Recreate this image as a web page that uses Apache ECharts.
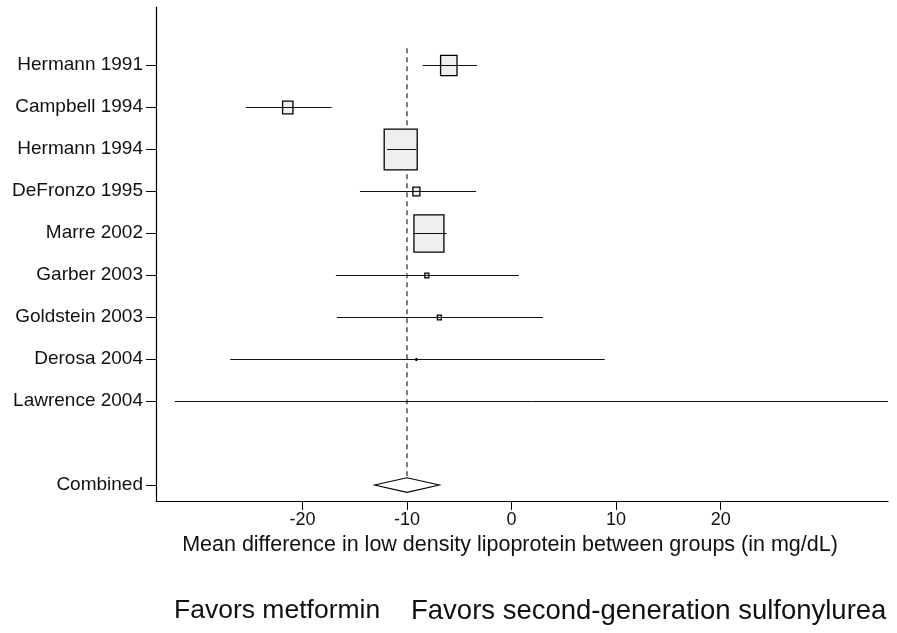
<!DOCTYPE html>
<html>
<head>
<meta charset="utf-8">
<script src="https://cdn.jsdelivr.net/npm/echarts@6/dist/echarts.min.js"></script>
<style>
  html, body { margin: 0; padding: 0; background: #fff; }
  #chart { width: 897px; height: 633px; }
</style>
</head>
<body>
<div id="chart"></div>
<script>
// studies, top to bottom
var studies = ['Hermann 1991', 'Campbell 1994', 'Hermann 1994', 'DeFronzo 1995', 'Marre 2002',
  'Garber 2003', 'Goldstein 2003', 'Derosa 2004', 'Lawrence 2004']
var rows = [1, 2, 3, 4, 5, 6, 7, 8, 9]
var means = [-6.0, -21.4, -10.6, -9.1, -7.9, -8.1, -6.9, -9.1, 2.0]
var lower = [-8.5, -25.4, -11.9, -14.5, -9.4, -16.8, -16.7, -26.9, -32.2]
var upper = [-3.3, -17.2, -9.1, -3.4, -6.2, 0.7, 3.0, 8.9, 36]
var weights = [11.0, 4.4, 44.5, 2.0, 36.7, 0.65, 0.65, 0.1, 0]

// pooled estimate
var combinedRow = 11
var combined = [-10.0, -13.1, -6.9]  // mean, lower, upper

var xTicks = [-20, -10, 0, 10, 20]
var yTicks = [1, 2, 3, 4, 5, 6, 7, 8, 9, 11]

var studyData = rows.map(function (r, i) {
  return [r, means[i], lower[i], upper[i], weights[i]]
})

var chart = echarts.init(document.getElementById('chart'))

function renderStudy(params, api) {
  var y = api.value(0)
  var a = api.coord([api.value(2), y])
  var b = api.coord([api.value(3), y])
  var m = api.coord([api.value(1), y])
  var py = Math.round(m[1]) + 0.5  // keep the whisker crisp
  var w = Math.sqrt(api.value(4)) * 4.95
  var h = w * 1.24
  var children = []
  if (w > 0) {
    children.push({
      type: 'rect',
      shape: { x: m[0] - w / 2, y: py - h / 2, width: w, height: h },
      style: { fill: '#efefef', stroke: '#000', lineWidth: w > 3 ? 1.3 : 1 }
    })
  }
  children.push({
    type: 'line',
    shape: { x1: a[0], y1: py, x2: b[0], y2: py },
    style: { stroke: '#111', lineWidth: 1 }
  })
  return { type: 'group', children: children }
}

function renderDiamond(params, api) {
  var y = api.value(0)
  var m = api.coord([api.value(1), y])
  var a = api.coord([api.value(2), y])
  var b = api.coord([api.value(3), y])
  var hh = 7.3
  return {
    type: 'polygon',
    shape: { points: [[a[0], m[1]], [m[0], m[1] - hh], [b[0], m[1]], [m[0], m[1] + hh]] },
    style: { fill: '#fff', stroke: '#000', lineWidth: 1.1 }
  }
}

var font = 'Liberation Sans, Arial, sans-serif'

var option = {
  animation: false,
  textStyle: { fontFamily: font },
  grid: { left: 156, right: 9, top: 7, bottom: 132 },
  xAxis: {
    type: 'value',
    position: 'bottom',
    min: -34,
    max: 36,
    axisLine: { onZero: false, lineStyle: { color: '#000', width: 1.2 } },
    axisTick: { customValues: xTicks, length: 9, lineStyle: { color: '#000' } },
    axisLabel: { customValues: xTicks, color: '#111', fontSize: 18, margin: 10 },
    splitLine: { show: false }
  },
  yAxis: {
    type: 'value',
    position: 'left',
    inverse: true,
    min: -0.38,
    max: 11.38,
    axisLine: { show: true, onZero: false, lineStyle: { color: '#000', width: 1.2 } },
    axisTick: { show: true, customValues: yTicks, length: 10, lineStyle: { color: '#000' } },
    axisLabel: {
      customValues: yTicks,
      color: '#111',
      fontSize: 19,
      margin: 13,
      formatter: function (v) {
        if (v === combinedRow) return 'Combined'
        return studies[rows.indexOf(v)] || ''
      }
    },
    splitLine: { show: false }
  },
  series: [
    {
      type: 'line',
      data: [[combined[0], 0.6], [combined[0], combinedRow]],
      symbol: 'none',
      lineStyle: { color: '#222', width: 1.2, type: [5, 4] },
      z: 1
    },
    {
      type: 'custom',
      renderItem: renderStudy,
      data: studyData,
      encode: { x: [1, 2, 3], y: 0 },
      z: 2
    },
    {
      type: 'custom',
      renderItem: renderDiamond,
      data: [[combinedRow, combined[0], combined[1], combined[2]]],
      encode: { x: [1, 2, 3], y: 0 },
      z: 3
    }
  ],
  graphic: [
    {
      type: 'text', x: 510, y: 534,
      style: {
        text: 'Mean difference in low density lipoprotein between groups (in mg/dL)',
        fill: '#111', font: '21.5px ' + font, align: 'center'
      }
    },
    {
      type: 'text', x: 174, y: 597,
      style: { text: 'Favors metformin', fill: '#111', font: '26.5px ' + font }
    },
    {
      type: 'text', x: 411, y: 597,
      style: { text: 'Favors second-generation sulfonylurea', fill: '#111', font: '27.5px ' + font }
    }
  ]
}

chart.setOption(option)
</script>
</body>
</html>
